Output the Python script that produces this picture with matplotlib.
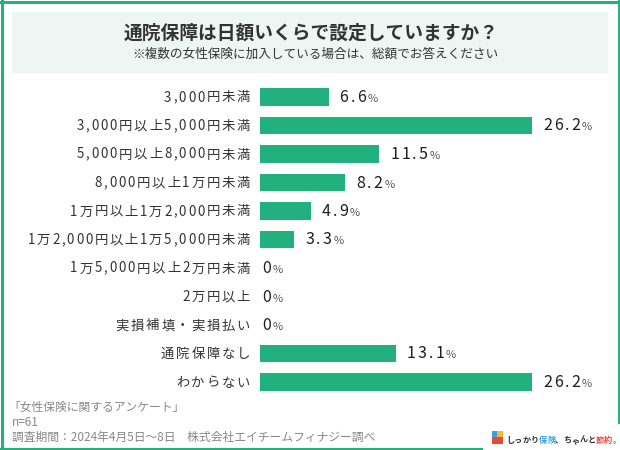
import matplotlib
matplotlib.use("Agg")
import matplotlib.pyplot as plt
from matplotlib.patches import Rectangle
from matplotlib.transforms import IdentityTransform
from matplotlib.font_manager import FontProperties, findfont, get_font

plt.rcParams['font.family'] = ['Noto Sans CJK JP', 'DejaVu Sans']

title = "通院保障は日額いくらで設定していますか？"
subtitle = "※複数の女性保険に加入している場合は、総額でお答えください"
categories = [
    "3,000円未満",
    "3,000円以上5,000円未満",
    "5,000円以上8,000円未満",
    "8,000円以上1万円未満",
    "1万円以上1万2,000円未満",
    "1万2,000円以上1万5,000円未満",
    "1万5,000円以上2万円未満",
    "2万円以上",
    "実損補填・実損払い",
    "通院保障なし",
    "わからない",
]
values = [6.6, 26.2, 11.5, 8.2, 4.9, 3.3, 0, 0, 0, 13.1, 26.2]
footer = ["「女性保険に関するアンケート」", "n=61",
          "調査期間：2024年4月5日～8日　株式会社エイチームフィナジー調べ"]

W, H = 620, 450
GREEN = "#22b07f"
DARK = "#333333"
DPI = 100


def fx(x):
    return x / W


def fy(y):
    return 1 - y / H


def adv_px(ch, size, weight):
    prop = FontProperties(family="Noto Sans CJK JP", size=size, weight=weight)
    font = get_font(findfont(prop))
    font.set_size(size, DPI)
    return font.load_char(ord(ch)).linearHoriAdvance / 65536


def tracked(fig, segments, x, y, ha="left", track=2.0):
    # letter-spaced text; segments: (text, size, weight, color); y is the baseline (display px)
    chars = []
    for txt, size, weight, color in segments:
        for ch in txt:
            chars.append((ch, size, weight, color, adv_px(ch, size, weight)))
    total = sum(c[4] for c in chars) + track * (len(chars) - 1)
    cx = x - total if ha == "right" else x
    for ch, size, weight, color, adv in chars:
        fig.text(cx, y, ch, transform=IdentityTransform(), ha="left", va="baseline",
                 fontsize=size, fontweight=weight, color=color)
        cx += adv + track
    return cx


fig = plt.figure(figsize=(6.2, 4.5), dpi=DPI)
fig.patch.set_facecolor("white")

# outer frame (open at the lower right for the logo)
fig.add_artist(plt.Line2D([fx(1.5), fx(1.5)], [fy(0), fy(448.5)], color=GREEN, lw=2.2))
fig.add_artist(plt.Line2D([fx(0), fx(618.5)], [fy(1.5), fy(1.5)], color=GREEN, lw=2.2))
fig.add_artist(plt.Line2D([fx(618.5), fx(618.5)], [fy(0), fy(422)], color=GREEN, lw=2.2))
fig.add_artist(plt.Line2D([fx(0), fx(481)], [fy(448.5), fy(448.5)], color=GREEN, lw=2.2))

# title box
fig.add_artist(Rectangle((fx(12), fy(73)), fx(608) - fx(12), fy(12) - fy(73),
                         transform=fig.transFigure, facecolor="#eef6f3", edgecolor="none"))
fig.text(fx(311), fy(33), title, ha="center", va="center", fontsize=13.5,
         fontweight="bold", color=DARK)
fig.text(fx(315), fy(54), subtitle, ha="center", va="center", fontsize=9.1,
         color=DARK)

# bar axes: x 260..532 px for 26.2, rows centred at 97 + 28.5*i
ax = fig.add_axes([fx(260), fy(396.25), fx(532) - fx(260), fy(82.75) - fy(396.25)])
ax.set_xlim(0, 26.2)
ax.set_ylim(len(values) - 0.5, -0.5)
ax.axis("off")

ypos = list(range(len(values)))
ax.barh(ypos, values, height=0.63, color=GREEN)

for i, (cat, v) in enumerate(zip(categories, values)):
    x0, yc = ax.transData.transform((0, i))
    xv, _ = ax.transData.transform((v, i))
    tracked(fig, [(cat, 9.6, "normal", DARK)], x0 - 10, yc - 4.5, ha="right", track=1.8)
    off = 11 if v > 0 else 2
    tracked(fig, [(f"{v:g}", 11.5, "normal", "#1e1e1e"), ("%", 8, "normal", "#555555")],
            xv + off, yc - 5, ha="left", track=2.0)

# footer
fig.text(fx(8), fy(407), footer[0], ha="left", va="center", fontsize=8.5, color="#888888")
fig.text(fx(12), fy(422), footer[1], ha="left", va="center", fontsize=8.5, color="#888888")
fig.text(fx(12), fy(437), footer[2], ha="left", va="center", fontsize=8.5, color="#888888")

# logo
fig.add_artist(Rectangle((fx(492), fy(437)), fx(5.5), fy(0) - fy(6),
                         transform=fig.transFigure, facecolor="#3aa0e0", edgecolor="none"))
fig.add_artist(Rectangle((fx(497.5), fy(437)), fx(5.5), fy(0) - fy(6),
                         transform=fig.transFigure, facecolor="#f5b82e", edgecolor="none"))
fig.add_artist(Rectangle((fx(492), fy(444)), fx(11), fy(0) - fy(7),
                         transform=fig.transFigure, facecolor="#e8493f", edgecolor="none"))
tracked(fig, [("しっかり", 5.9, "bold", "#333333"), ("保険", 5.9, "bold", "#3aa0e0"),
              ("、ちゃんと", 5.9, "bold", "#333333"), ("節約", 5.9, "bold", "#e8493f"),
              ("。", 5.9, "bold", "#e8493f")],
        506, H - 443, ha="left", track=0.0)

fig.savefig("out.png", dpi=DPI)
